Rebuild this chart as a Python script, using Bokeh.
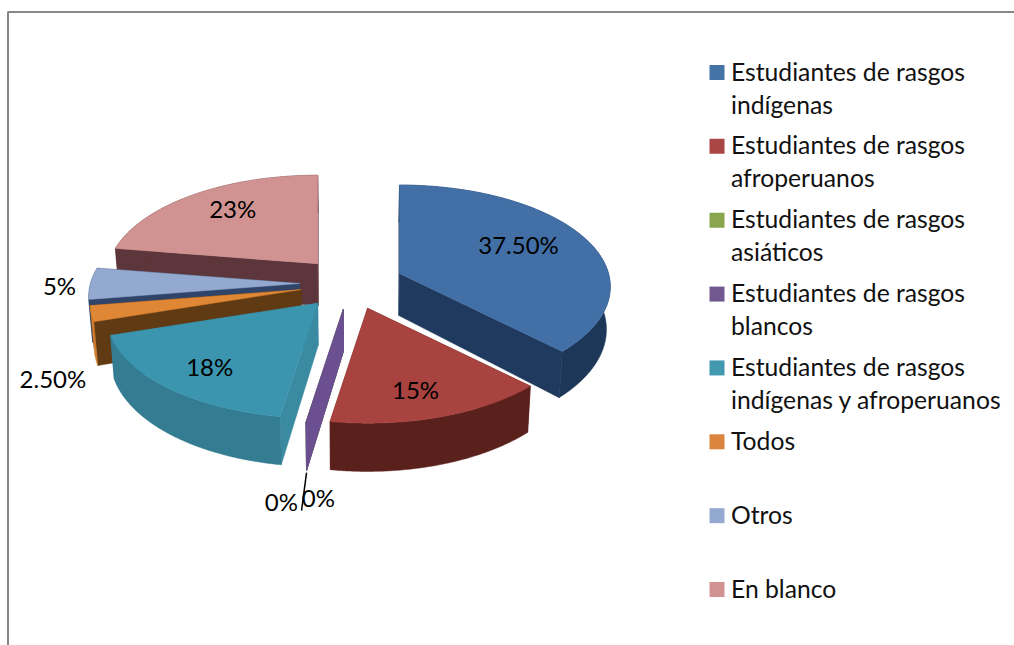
import numpy as np
from bokeh.plotting import figure
from bokeh.embed import file_html
from bokeh.resources import INLINE
from bokeh.core.properties import value
from bokeh.models import Range1d

# ---- data ----
categories = ["Estudiantes de rasgos\nindígenas", "Estudiantes de rasgos\nafroperuanos",
              "Estudiantes de rasgos\nasiáticos", "Estudiantes de rasgos\nblancos",
              "Estudiantes de rasgos\nindígenas y afroperuanos", "Todos", "Otros", "En blanco"]
values = [37.5, 15, 0, 0, 17.5, 2.5, 5, 22.5]
value_labels = ["37.50%", "15%", "0%", "0%", "18%", "2.50%", "5%", "23%"]

# ---- style / layout ----
top_colors = ["#4270a6", "#a9433f", "#89a54e", "#6b4f90", "#3b95af", "#e08735", "#93a9cf", "#d19392"]
legend_colors = ["#4572a7", "#aa4643", "#89a54e", "#71588f", "#4198af", "#db843d", "#93a9cf", "#d19392"]
rim_colors = ["#1d3759", "#5a201c", "#5b7030", "#5f4580", "#337c92", "#d07c2f", "#2f4468", "#5c363a"]
face_colors = ["#1f3a5e", "#5a201c", "#5b7030", "#6b4f90", "#3a8aa2", "#5f3a13", "#2f4468", "#5c363a"]
label_dx = [119, 48, -62, -25, -108, -248, -240, -85]
label_dy = [-29, 81, 192, 188, 63, 89, 2, -55]
FONT = "Lato"
CX, CY = 351, 283
A, B, K = 209, 100, 0.13
EA, EB = 52, 26
DEPTH = 42
SHRINK = 0.985
W, H = 1014, 645


def direction(deg):
    t = np.radians(deg)
    return np.sin(t), -np.cos(t)


def project(ax, ay, deg, r):
    """Point at radius r and clockwise angle deg of a slice whose apex is (ax, ay)."""
    dx, dy = direction(np.asarray(deg, dtype=float))
    s = 1 / (1 - K * dy * r)
    return ax + A * dx * r * s, ay + B * dy * r * s, s


def lower(x, y, s):
    return CX + (np.asarray(x) - CX) * SHRINK, np.asarray(y) + DEPTH * s


p = figure(width=W, height=H, output_backend="svg", toolbar_location=None,
           x_range=Range1d(0, W), y_range=Range1d(H, 0),
           min_border=0, outline_line_color=None, background_fill_color="white",
           border_fill_color="white")
p.axis.visible = False
p.grid.visible = False

# chart frame
p.line([7.5, 7.5, W], [H, 11.5, 11.5], line_color="#878787", line_width=2)

shares = np.array(values, dtype=float) / sum(values) * 360
ends = np.cumsum(shares)
starts = ends - shares
mids = (starts + ends) / 2

apex = []
for m in mids:
    dx, dy = direction(m)
    apex.append((CX + EA * dx, CY + EB * dy))

# painter's order: back slices first
order = sorted(range(len(values)), key=lambda i: (direction(mids[i])[1], i))
for i in order:
    ax, ay = apex[i]
    arc = np.linspace(starts[i], ends[i], max(2, int(shares[i] * 2) + 2))
    ox, oy, os_ = project(ax, ay, arc, 1.0)
    lx, ly = lower(ox, oy, os_)
    apx, apy = lower(ax, ay, 1.0)
    # radial cut faces
    for k in (0, -1):
        p.patch([ax, ox[k], lx[k], apx], [ay, oy[k], ly[k], apy],
                fill_color=face_colors[i], line_color=face_colors[i], line_width=0.5)
    if shares[i] > 0:
        # outer rim
        p.patch(np.r_[ox, lx[::-1]], np.r_[oy, ly[::-1]],
                fill_color=rim_colors[i], line_color=rim_colors[i], line_width=0.5)
        # top
        p.patch(np.r_[ax, ox], np.r_[ay, oy],
                fill_color=top_colors[i], line_color=top_colors[i], line_width=0.5)

# leader line of the zero labels
zero = categories.index("Estudiantes de rasgos\nblancos")
zx, zy = apex[zero]
qx, qy, qs = project(zx, zy, mids[zero], 1.0)
lqx, lqy = lower(qx, qy, qs)
p.line([float(lqx), float(lqx) - 5], [float(lqy) + 2, float(lqy) + 40], line_color="black", line_width=1.5)

# value labels
p.text([apex[i][0] + label_dx[i] for i in range(len(values))],
       [apex[i][1] + label_dy[i] for i in range(len(values))],
       text=value_labels, text_font=value(FONT), text_font_size="24px", text_color="#000000",
       text_align="center", text_baseline="middle")

# legend
LEG_X, LEG_Y, LEG_STEP, LINE_H, BOX = 709, 72, 73.86, 33, 15
for i, cat in enumerate(categories):
    yc = LEG_Y + LEG_STEP * i
    p.rect([LEG_X + BOX / 2], [yc], width=BOX, height=BOX,
           fill_color=legend_colors[i], line_color=None)
    for j, line in enumerate(cat.split("\n")):
        p.text([LEG_X + 21.5], [yc - 1.5 + LINE_H * j], text=[line], text_font=value(FONT),
               text_font_size="24.7px", text_color="#111111", text_align="left", text_baseline="middle")

open("out.html", "w").write(file_html(p, INLINE))
